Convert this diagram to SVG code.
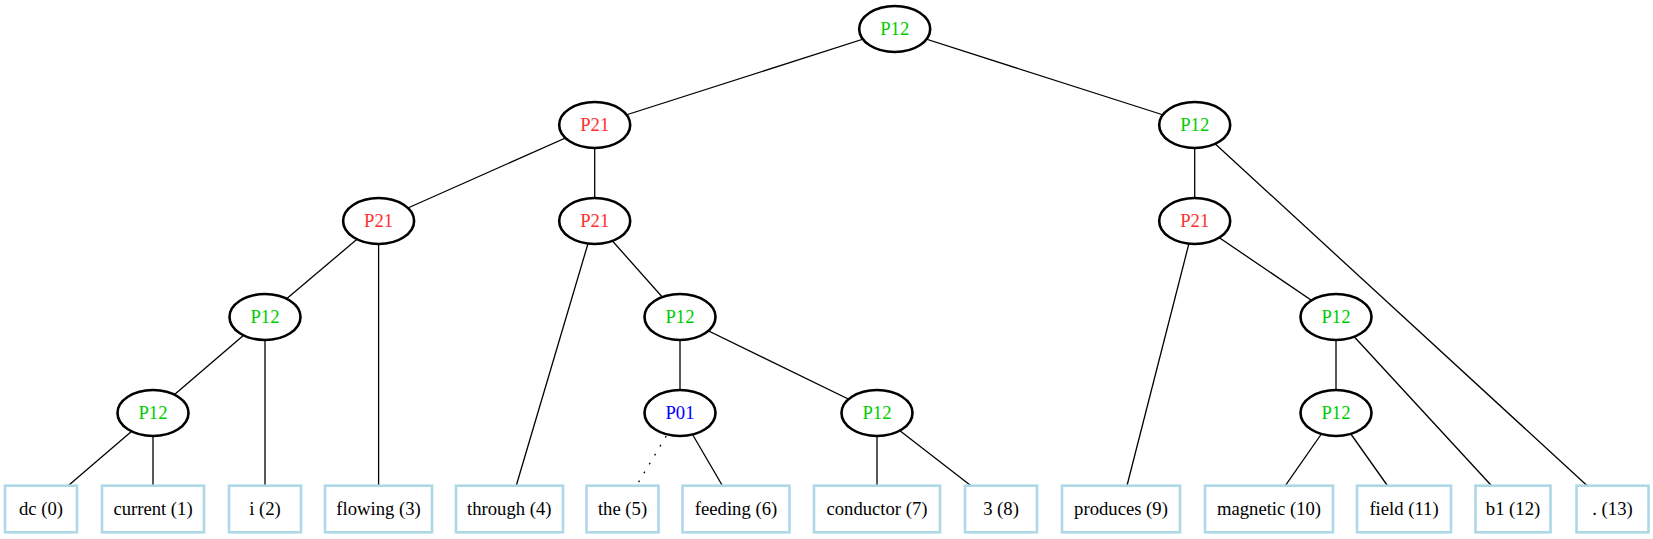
<svg xmlns="http://www.w3.org/2000/svg" width="1653" height="539" viewBox="0 0 1653 539">
<style>
.e{fill:#fff;stroke:#000;stroke-width:2.6}
.b{fill:#fff;stroke:#add8e6;stroke-width:2.6}
.c line{stroke:#000;stroke-width:1.3}
text{font-family:"Liberation Serif","Times New Roman",serif;font-size:18.67px;text-anchor:middle}
.g{fill:#00cd00}.r{fill:#ff3030}.bl{fill:#0000ff}.k{fill:#000}
</style>
<rect width="1653" height="539" fill="#fff"/>
<g id="connectors" class="c">
<line x1="894.7" y1="29" x2="594.7" y2="125"/>
<line x1="894.7" y1="29" x2="1194.7" y2="125"/>
<line x1="594.7" y1="125" x2="378.6" y2="221"/>
<line x1="594.7" y1="125" x2="594.7" y2="221"/>
<line x1="378.6" y1="221" x2="265" y2="317"/>
<line x1="378.6" y1="221" x2="378.6" y2="509"/>
<line x1="265" y1="317" x2="153" y2="413"/>
<line x1="265" y1="317" x2="265" y2="509"/>
<line x1="153" y1="413" x2="41" y2="509"/>
<line x1="153" y1="413" x2="153" y2="509"/>
<line x1="594.7" y1="221" x2="509.3" y2="509"/>
<line x1="594.7" y1="221" x2="680" y2="317"/>
<line x1="680" y1="317" x2="680" y2="413"/>
<line x1="680" y1="317" x2="877" y2="413"/>
<line x1="666.2" y1="436" x2="636.9" y2="485" stroke-dasharray="1.8,8.6" stroke-width="1.8"/>
<line x1="680" y1="413" x2="736" y2="509"/>
<line x1="877" y1="413" x2="877" y2="509"/>
<line x1="877" y1="413" x2="1001" y2="509"/>
<line x1="1194.7" y1="125" x2="1194.7" y2="221"/>
<line x1="1194.7" y1="125" x2="1612.5" y2="509"/>
<line x1="1194.7" y1="221" x2="1121" y2="509"/>
<line x1="1194.7" y1="221" x2="1336" y2="317"/>
<line x1="1336" y1="317" x2="1336" y2="413"/>
<line x1="1336" y1="317" x2="1513" y2="509"/>
<line x1="1336" y1="413" x2="1269" y2="509"/>
<line x1="1336" y1="413" x2="1404" y2="509"/>
</g>
<g id="n_root"><ellipse class="e" cx="894.7" cy="29" rx="35.5" ry="23"/><text class="g" x="894.7" y="34.6">P12</text></g>
<g id="n_p21a"><ellipse class="e" cx="594.7" cy="125" rx="35.5" ry="23"/><text class="r" x="594.7" y="130.6">P21</text></g>
<g id="n_p12b"><ellipse class="e" cx="1194.7" cy="125" rx="35.5" ry="23"/><text class="g" x="1194.7" y="130.6">P12</text></g>
<g id="n_p21c"><ellipse class="e" cx="378.6" cy="221" rx="35.5" ry="23"/><text class="r" x="378.6" y="226.6">P21</text></g>
<g id="n_p21d"><ellipse class="e" cx="594.7" cy="221" rx="35.5" ry="23"/><text class="r" x="594.7" y="226.6">P21</text></g>
<g id="n_p21i"><ellipse class="e" cx="1194.7" cy="221" rx="35.5" ry="23"/><text class="r" x="1194.7" y="226.6">P21</text></g>
<g id="n_p12e"><ellipse class="e" cx="265" cy="317" rx="35.5" ry="23"/><text class="g" x="265" y="322.6">P12</text></g>
<g id="n_p12g"><ellipse class="e" cx="680" cy="317" rx="35.5" ry="23"/><text class="g" x="680" y="322.6">P12</text></g>
<g id="n_p12j"><ellipse class="e" cx="1336" cy="317" rx="35.5" ry="23"/><text class="g" x="1336" y="322.6">P12</text></g>
<g id="n_p12f"><ellipse class="e" cx="153" cy="413" rx="35.5" ry="23"/><text class="g" x="153" y="418.6">P12</text></g>
<g id="n_p01"><ellipse class="e" cx="680" cy="413" rx="35.5" ry="23"/><text class="bl" x="680" y="418.6">P01</text></g>
<g id="n_p12h"><ellipse class="e" cx="877" cy="413" rx="35.5" ry="23"/><text class="g" x="877" y="418.6">P12</text></g>
<g id="n_p12k"><ellipse class="e" cx="1336" cy="413" rx="35.5" ry="23"/><text class="g" x="1336" y="418.6">P12</text></g>
<g id="w0"><rect class="b" x="5" y="485.7" width="72" height="46.6"/><text class="k" x="41" y="514.6">dc (0)</text></g>
<g id="w1"><rect class="b" x="102" y="485.7" width="102" height="46.6"/><text class="k" x="153" y="514.6">current (1)</text></g>
<g id="w2"><rect class="b" x="229" y="485.7" width="72" height="46.6"/><text class="k" x="265" y="514.6">i (2)</text></g>
<g id="w3"><rect class="b" x="325" y="485.7" width="107" height="46.6"/><text class="k" x="378.6" y="514.6">flowing (3)</text></g>
<g id="w4"><rect class="b" x="456" y="485.7" width="107" height="46.6"/><text class="k" x="509.3" y="514.6">through (4)</text></g>
<g id="w5"><rect class="b" x="586.5" y="485.7" width="72" height="46.6"/><text class="k" x="622.5" y="514.6">the (5)</text></g>
<g id="w6"><rect class="b" x="682.5" y="485.7" width="107" height="46.6"/><text class="k" x="736" y="514.6">feeding (6)</text></g>
<g id="w7"><rect class="b" x="814" y="485.7" width="126" height="46.6"/><text class="k" x="877" y="514.6">conductor (7)</text></g>
<g id="w8"><rect class="b" x="965" y="485.7" width="72" height="46.6"/><text class="k" x="1001" y="514.6">3 (8)</text></g>
<g id="w9"><rect class="b" x="1062" y="485.7" width="118" height="46.6"/><text class="k" x="1121" y="514.6">produces (9)</text></g>
<g id="w10"><rect class="b" x="1205" y="485.7" width="128" height="46.6"/><text class="k" x="1269" y="514.6">magnetic (10)</text></g>
<g id="w11"><rect class="b" x="1357" y="485.7" width="94" height="46.6"/><text class="k" x="1404" y="514.6">field (11)</text></g>
<g id="w12"><rect class="b" x="1475.5" y="485.7" width="75" height="46.6"/><text class="k" x="1513" y="514.6">b1 (12)</text></g>
<g id="w13"><rect class="b" x="1576.5" y="485.7" width="72" height="46.6"/><text class="k" x="1612.5" y="514.6">. (13)</text></g>
</svg>
